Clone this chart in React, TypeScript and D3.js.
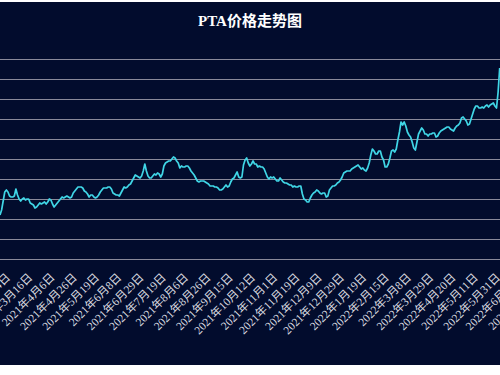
import React from 'react';
import * as d3 from 'd3';

// PTA daily price, one value per trading day
const title = 'PTA价格走势图';

const prices: number[] = [
  4690, 4790, 4970, 5150, 5190, 5150, 5070, 5050, 5050, 5070,
  5210, 5090, 5010, 4970, 5010, 5030, 4990, 5010, 5010, 4930,
  4910, 4890, 4830, 4850, 4890, 4930, 4910, 4930, 4950, 4910,
  4950, 5010, 4990, 4910, 4850, 4890, 4930, 4970, 5010, 5050,
  5030, 5050, 5070, 5050, 5030, 5050, 5130, 5170, 5210, 5250,
  5250, 5250, 5230, 5170, 5150, 5110, 5050, 5090, 5090, 5050,
  5030, 5050, 5090, 5150, 5190, 5230, 5230, 5230, 5250, 5250,
  5210, 5130, 5110, 5090, 5090, 5070, 5130, 5190, 5250, 5230,
  5250, 5290, 5310, 5370, 5430, 5490, 5470, 5450, 5430, 5470,
  5570, 5710, 5570, 5470, 5430, 5430, 5470, 5510, 5490, 5530,
  5510, 5450, 5510, 5670, 5730, 5750, 5770, 5770, 5810, 5850,
  5830, 5770, 5730, 5630, 5670, 5650, 5650, 5670, 5670, 5630,
  5570, 5530, 5490, 5430, 5370, 5350, 5370, 5370, 5370, 5350,
  5330, 5310, 5270, 5270, 5270, 5250, 5250, 5230, 5190, 5190,
  5210, 5250, 5290, 5250, 5270, 5350, 5410, 5430, 5490, 5550,
  5450, 5430, 5450, 5690, 5790, 5830, 5730, 5670, 5710, 5770,
  5710, 5710, 5650, 5670, 5650, 5650, 5610, 5530, 5450, 5410,
  5450, 5430, 5450, 5410, 5370, 5370, 5430, 5390, 5350, 5330,
  5330, 5310, 5290, 5290, 5250, 5270, 5250, 5250, 5270, 5270,
  5110, 5010, 4990, 4950, 4950, 5030, 5090, 5130, 5150, 5190,
  5170, 5130, 5110, 5130, 5130, 5050, 5070, 5190, 5230, 5270,
  5270, 5290, 5330, 5350, 5390, 5450, 5530, 5550, 5570, 5570,
  5570, 5610, 5630, 5650, 5670, 5690, 5650, 5610, 5630, 5590,
  5570, 5630, 5730, 5890, 6010, 5970, 5910, 5910, 5970, 5970,
  5850, 5790, 5650, 5650, 5710, 5830, 5970, 5990, 5950, 6010,
  6190, 6350, 6550, 6490, 6550, 6470, 6350, 6290, 6250, 6150,
  6030, 5990, 6150, 6310, 6370, 6430, 6390, 6310, 6310, 6270,
  6310, 6310, 6330, 6330, 6250, 6270, 6330, 6370, 6390, 6410,
  6430, 6450, 6450, 6410, 6390, 6370, 6430, 6470, 6490, 6530,
  6630, 6650, 6610, 6570, 6490, 6510, 6610, 6710, 6810, 6870,
  6870, 6830, 6830, 6850, 6830, 6870, 6890, 6850, 6890, 6910,
  6930, 6870, 6830, 7150, 7630,
];

// category labels, one every 14 trading days starting at day 3
const tickLabels = [
  '2021年2月24日', '2021年3月16日', '2021年4月6日', '2021年4月26日',
  '2021年5月19日', '2021年6月8日', '2021年6月29日', '2021年7月19日',
  '2021年8月6日', '2021年8月26日', '2021年9月15日', '2021年10月12日',
  '2021年11月1日', '2021年11月19日', '2021年12月9日', '2021年12月29日',
  '2022年1月19日', '2022年2月15日', '2022年3月8日', '2022年3月29日',
  '2022年4月20日', '2022年5月11日', '2022年5月31日', '2022年6月21日',
  '2022年7月11日',
];
const firstTick = 3;
const tickStep = 14;

const gridValues = d3.range(3800, 7801, 400);

const W = 500;
const H = 375;

export default function App() {
  const x = d3.scaleLinear().domain([0, prices.length - 1]).range([0, 499.7]);
  const y = d3.scaleLinear().domain([3800, 7800]).range([259.5, 59.5]);

  const linePath = d3
    .line<number>()
    .x((_, i) => x(i))
    .y((d) => y(d))(prices) || '';

  return (
    <svg
      width={W}
      height={H}
      style={{ position: 'fixed', left: 0, top: 0, display: 'block' }}
    >
      <rect width={W} height={H} fill="#ffffff" />
      <rect x={0} y={2} width={W} height={363} fill="#020c2d" />

      <text
        x={W / 2}
        y={26}
        textAnchor="middle"
        fill="#ffffff"
        fontSize="15"
        fontWeight="bold"
        fontFamily="'Liberation Serif', 'Noto Sans CJK SC', serif"
      >
        {title}
      </text>

      {/* gridlines */}
      {gridValues.map((v) => (
        <line
          key={v}
          x1={0}
          x2={W}
          y1={y(v)}
          y2={y(v)}
          stroke="#8a8a9a"
          strokeWidth="1"
        />
      ))}

      {/* price line */}
      <path d={linePath} fill="none" stroke="#40d6e6" strokeWidth="1.7" strokeLinejoin="round" />

      {/* rotated category labels, cropped at the edges like the source */}
      {tickLabels.map((lbl, k) => {
        const tx = x(firstTick + k * tickStep) + 6;
        const ty = 278;
        return (
          <text
            key={lbl}
            x={tx}
            y={ty}
            textAnchor="end"
            fill="#dcdce0"
            fontSize="11.5"
            fontFamily="'Liberation Serif', 'Noto Sans CJK SC', serif"
            transform={`rotate(-45, ${tx}, ${ty})`}
          >
            {lbl}
          </text>
        );
      })}
    </svg>
  );
}
